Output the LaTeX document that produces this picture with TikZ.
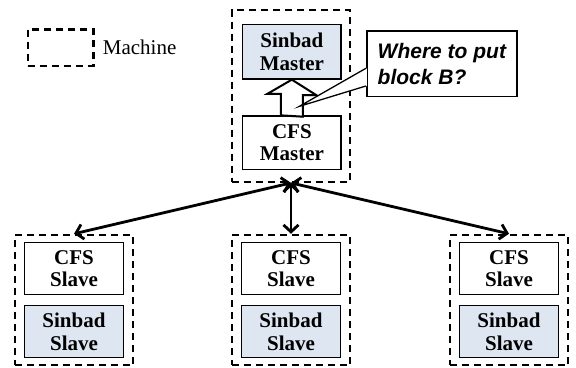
\documentclass[tikz,border=0pt]{standalone}
\usepackage{fontspec}
\setmainfont{Liberation Serif}
\newfontfamily\notefont{Liberation Sans}
\usetikzlibrary{arrows.meta,calc,shadows}
\definecolor{sinbadblue}{RGB}{221,230,241}

\begin{document}
\begin{tikzpicture}[x=1bp,y=-1bp,
  font=\fontsize{21bp}{22.7bp}\selectfont,
  machine/.style={draw,dash pattern=on 7bp off 5bp,line width=2.4bp,inner sep=0pt},
  proc/.style={draw,line width=1.3bp,inner sep=0pt,align=center,
    font=\fontsize{21bp}{22.7bp}\selectfont\bfseries,minimum width=98.5bp},
  sinbad/.style={proc,fill=sinbadblue},
  link/.style={line width=2.8bp,
    {Straight Barb[length=7bp,width=15bp]}-{Straight Barb[length=7bp,width=15bp]}},
  blockarrow/.style={draw,line width=2bp,fill=white,
    drop shadow={opacity=0.3,shadow xshift=1.2bp,shadow yshift=-1.2bp}},
]
\useasboundingbox (0,0) rectangle (576,367);
% legend
\node[machine,minimum width=65.6bp,minimum height=36.4bp] (legend) at (60.5,47.5) {};
\node[anchor=west,inner sep=0pt] (legendtext) at (102.7,47.5) {Machine};
% master machine
\node[machine,minimum width=118.3bp,minimum height=171.7bp] (master) at (291,95.85) {};
\node[sinbad,minimum height=54.7bp] (sinm) at (291.85,51.65) {Sinbad\\Master};
\node[proc,minimum height=53.3bp] (cfsm) at (291.85,142.65) {CFS\\Master};
\draw[blockarrow] ($(cfsm.north)+(-11,0)$) -- ++(0,-21.5) -- ++(-13.5,0)
 -- (sinm.south) -- ++(24.5,15.5) -- ++(-13.5,0) -- ++(0,21.5) -- cycle;
% callout
\node[draw,line width=1.6bp,fill=white,minimum width=150.3bp,minimum height=65.5bp,
  align=left,font=\notefont\fontsize{21bp}{26bp}\selectfont\bfseries\itshape]
  (question) at (441.85,63.75) {Where to put\\block B?};
\coordinate (tip) at ($(cfsm.north)+(7.5,-9)$);
\fill[white] ($(question.west)+(1,4.55)$) -- (tip) -- ($(question.west)+(1,22.25)$) -- cycle;
\draw[line width=1.3bp] ($(question.west)+(0,4.55)$) -- (tip) -- ($(question.west)+(0,22.25)$);
% slave machines
\foreach \name/\x in {a/74,b/291,c/509} {
  \node[machine,minimum width=118.5bp,minimum height=130bp] (slave\name) at (\x,300) {};
  \node[proc,minimum height=52.5bp] (cfs\name) at (\x,268.5) {CFS\\Slave};
  \node[sinbad,minimum height=52.5bp] (sin\name) at (\x,331.5) {Sinbad\\Slave};
}
\foreach \name in {a,b,c}
  \draw[link] (master.south) -- (slave\name.north);
\end{tikzpicture}
\end{document}
